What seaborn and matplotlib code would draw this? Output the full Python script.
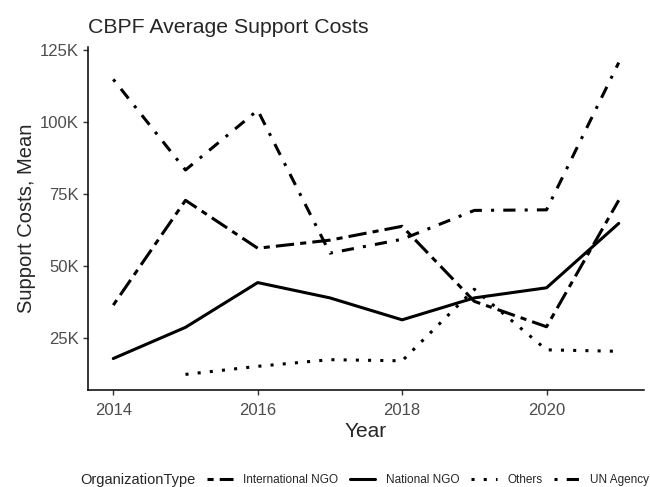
import numpy as np
import pandas as pd
import matplotlib.pyplot as plt
import seaborn as sns
from matplotlib.ticker import FuncFormatter

# values (mean support costs, USD)
years = [2014, 2015, 2016, 2017, 2018, 2019, 2020, 2021]
intl_ngo = [36500, 72800, 56200, 59000, 63800, 37800, 29000, 72800]
national_ngo = [18000, 28800, 44300, 39000, 31400, 39000, 42500, 64800]
others = [np.nan, 12500, 15300, 17600, 17200, 42000, 21000, 20500]
un_agency = [114700, 83300, 104000, 54500, 59300, 69300, 69500, 120500]

org_types = ["International NGO", "National NGO", "Others", "UN Agency"]

df = pd.DataFrame({
    "Year": years * 4,
    "Cost": intl_ngo + national_ngo + others + un_agency,
    "OrganizationType": [t for t in org_types for _ in years],
})

sns.set_style("ticks")
plt.rcParams["font.family"] = ["Liberation Sans", "DejaVu Sans"]

line_dashes = {
    "International NGO": (2, 2, 6, 2),
    "National NGO": "",
    "Others": (1, 3),
    "UN Agency": (1, 3, 4, 3),
}

fig, ax = plt.subplots(figsize=(6.5, 4.87), dpi=100)
fig.subplots_adjust(left=0.1354, right=0.9908, bottom=0.1992, top=0.9035)

sns.lineplot(data=df, x="Year", y="Cost", style="OrganizationType",
             style_order=org_types, dashes=line_dashes, color="black",
             linewidth=2.2, ax=ax)

handles, labels = ax.get_legend_handles_labels()
ax.get_legend().remove()

ax.margins(x=0.05, y=0.05)
ax.set_xticks([2014, 2016, 2018, 2020])
ax.set_yticks([25000, 50000, 75000, 100000, 125000])
ax.yaxis.set_major_formatter(FuncFormatter(lambda v, p: f"{int(v / 1000)}K"))

for s in ["top", "right"]:
    ax.spines[s].set_visible(False)
for s in ["left", "bottom"]:
    ax.spines[s].set_color("black")
    ax.spines[s].set_linewidth(1.1)
ax.tick_params(axis="both", length=3.5, width=1.0, color="#333333",
               labelsize=12, labelcolor="#4D4D4D")
ax.tick_params(axis="x", pad=6)
ax.tick_params(axis="y", pad=3)

ax.set_xlabel("Year", fontsize=15, labelpad=3)
ax.set_ylabel("Support Costs, Mean", fontsize=14.5, labelpad=3)
ax.set_title("CBPF Average Support Costs", fontsize=15.3, loc="left", pad=10)

fig.text(0.123, 0.0144, "OrganizationType", fontsize=10.5, ha="left", va="center")
leg = fig.legend(handles, labels, loc="center left", bbox_to_anchor=(0.318, 0.0144),
                 ncol=4, frameon=False, fontsize=8.5, handlelength=2.2,
                 handletextpad=0.9, columnspacing=0.95, borderaxespad=0,
                 borderpad=0)
for h in leg.get_lines():
    h.set_linewidth(2.2)

plt.savefig("out.png", dpi=100)
plt.close()
